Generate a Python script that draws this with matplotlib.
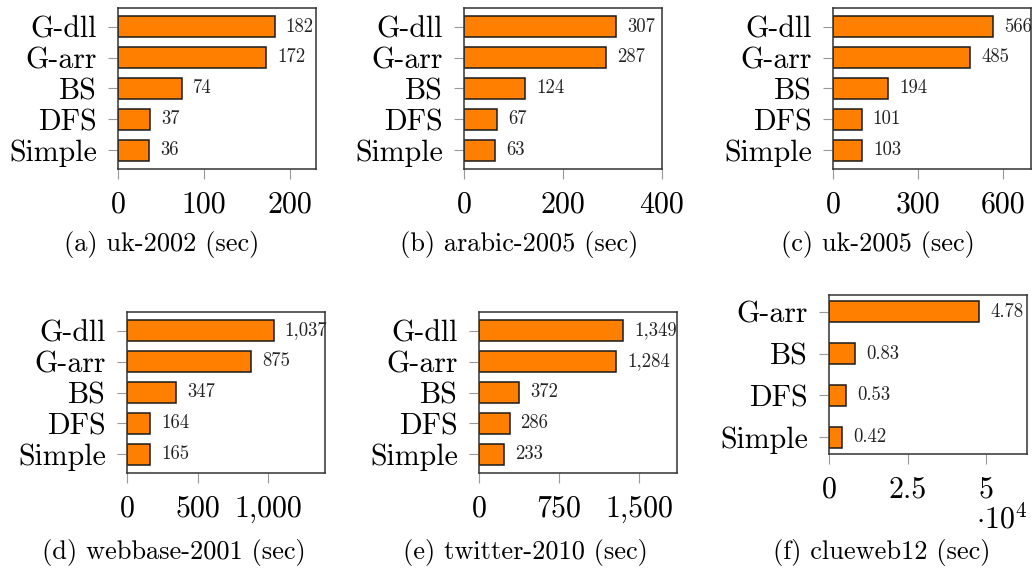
import matplotlib
matplotlib.use("Agg")
import matplotlib.pyplot as plt

plt.rcParams['font.family'] = ['cmr10', 'DejaVu Serif']
plt.rcParams['mathtext.fontset'] = 'cm'
plt.rcParams['axes.formatter.use_mathtext'] = True

W, H = 1032, 571

# data (sec); clueweb12 in units of 10^4
labels5 = ["G-dll", "G-arr", "BS", "DFS", "Simple"]
labels4 = ["G-arr", "BS", "DFS", "Simple"]

uk2002 = [182, 172, 74, 37, 36]
arabic2005 = [307, 287, 124, 67, 63]
uk2005 = [566, 485, 194, 101, 103]
webbase2001 = [1037, 875, 347, 164, 165]
twitter2010 = [1349, 1284, 372, 286, 233]
clueweb12 = [4.78, 0.83, 0.53, 0.42]

captions = ["(a) uk-2002 (sec)", "(b) arabic-2005 (sec)", "(c) uk-2005 (sec)",
            "(d) webbase-2001 (sec)", "(e) twitter-2010 (sec)", "(f) clueweb12 (sec)"]

xticks_all = [[0, 100, 200], [0, 200, 400], [0, 300, 600],
              [0, 500, 1000], [0, 750, 1500], [0, 2.5, 5]]
xmax_all = [230, 400, 700, 1400, 1856, 6.3]

# axes boxes in pixels: left, right, top, bottom
boxes = [(118, 316, 8, 169), (464, 662, 8, 169), (833, 1031, 8, 169),
         (127, 325, 312, 473), (479, 677, 312, 473), (829, 1027, 295, 454)]
cap_pos = [(162, 244), (519, 244), (878, 244), (174, 553), (525, 553), (882, 553)]

panels = [(labels5, uk2002), (labels5, arabic2005), (labels5, uk2005),
          (labels5, webbase2001), (labels5, twitter2010), (labels4, clueweb12)]

fig = plt.figure(figsize=(W / 100, H / 100), dpi=100)


def fmt(v):
    if isinstance(v, float):
        return "%.2f" % v
    return "{:,}".format(v)


for i, ((labs, vals), box) in enumerate(zip(panels, boxes)):
    l, r, t, b = box
    ax = fig.add_axes([l / W, 1 - b / H, (r - l) / W, (b - t) / H])
    n = len(labs)
    ypos = list(range(n - 1, -1, -1))
    h = 0.68 if n == 5 else 0.5
    ax.barh(ypos, vals, height=h, color='#ff8000', edgecolor='#1a1a1a', linewidth=1.1)
    for y, v in zip(ypos, vals):
        ax.annotate(fmt(v), (v, y), xytext=(8, 0), textcoords='offset points',
                    va='center', ha='left', fontsize=13.5, color='#222222')
    pad = 0.6 if n == 5 else 0.4
    ax.set_ylim(-pad, n - 1 + pad)
    ax.set_xlim(0, xmax_all[i])
    ax.set_yticks(ypos)
    ax.set_yticklabels(labs)
    xt = xticks_all[i]
    ax.set_xticks(xt)
    ax.set_xticklabels(["{:,}".format(x) if isinstance(x, int) else "%g" % x for x in xt])
    ax.tick_params(axis='both', direction='out', length=7, width=0.8, color='#999999',
                   labelsize=21.5, pad=8)
    ax.tick_params(axis='x', pad=9)
    for s in ax.spines.values():
        s.set_color('#333333')
        s.set_linewidth(1.1)
    cx, cy = cap_pos[i]
    fig.text(cx / W, 1 - cy / H, captions[i], ha='center', va='center', fontsize=19)
    if i == 5:
        ax.text(1.0, -0.41, r'$\cdot 10^4$', transform=ax.transAxes, ha='right',
                va='center', fontsize=21.5)

fig.savefig("out.png", dpi=100)
